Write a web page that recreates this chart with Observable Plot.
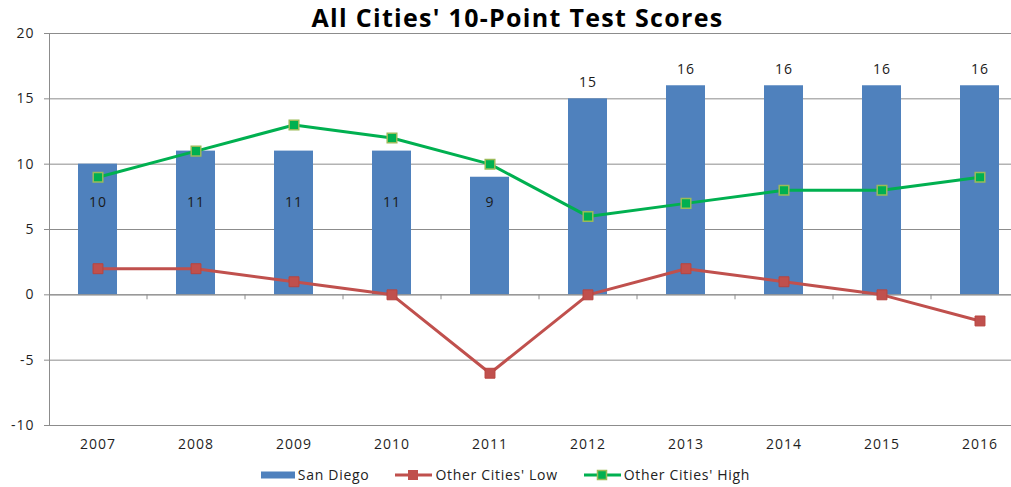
<!DOCTYPE html>
<html>
<head>
<meta charset="utf-8">
<script src="https://cdn.jsdelivr.net/npm/d3@7"></script>
<script src="https://cdn.jsdelivr.net/npm/@observablehq/plot@0.6"></script>
<style>
  html, body { margin: 0; padding: 0; background: #fff; overflow: hidden; width: 1011px; height: 487px; position: relative; }
  #title { position: absolute; left: 0; top: 0; width: 1011px; height: 34px; line-height: 34px; text-align: center; font-family: "Open Sans", sans-serif; font-weight: bold; font-size: 25px; letter-spacing: 1.3px; color: #000; padding-left: 24px; box-sizing: border-box; white-space: nowrap; z-index: 2; }
  #chart { padding-top: 22px; }
  #chart svg { display: block; overflow: hidden; letter-spacing: 1px; }
  #legend { height: 27px; display: flex; justify-content: center; align-items: center; font-family: "Open Sans", sans-serif; font-size: 14px; letter-spacing: 0.7px; color: #222; gap: 26px; padding-left: 0px; padding-top: 2px; box-sizing: border-box; }
  .item { display: flex; align-items: center; gap: 3px; }
</style>
</head>
<body>
<div id="title">All Cities' 10-Point Test Scores</div>
<div id="chart"></div>
<div id="legend"></div>
<script>
const years = ["2007", "2008", "2009", "2010", "2011", "2012", "2013", "2014", "2015", "2016"];
const sanDiego = [10, 11, 11, 11, 9, 15, 16, 16, 16, 16];
const othersLow = [2, 2, 1, 0, -6, 0, 2, 1, 0, -2];
const othersHigh = [9, 11, 13, 12, 10, 6, 7, 8, 8, 9];
const labelPlacement = ["inside", "inside", "inside", "inside", "inside", "above", "above", "above", "above", "above"];
const yTicks = [-10, -5, 0, 5, 10, 15, 20];
const seriesNames = ["San Diego", "Other Cities' Low", "Other Cities' High"];

const colors = { bar: "#4F81BD", low: "#C0504D", high: "#00B050", highEdge: "#9BBB59", axis: "#8c8c8c" };

const table = years.map((y, i) => ({ year: y, sd: sanDiego[i], low: othersLow[i], high: othersHigh[i], place: labelPlacement[i] }));

const W = 1011, ML = 49, MR = -18;
const step = (W - ML - MR) / years.length;
const insideLabelY = 7.1;

const chart = Plot.plot({
  width: W,
  height: 438,
  marginLeft: ML,
  marginRight: MR,
  marginTop: 11,
  marginBottom: 35,
  style: { fontFamily: "Open Sans, sans-serif", fontSize: "14px", color: "#1f1f1f", background: "#fff", overflow: "hidden" },
  x: { domain: years, paddingInner: 0.6, paddingOuter: 0.3, label: null },
  y: { domain: [-10, 20], ticks: yTicks, label: null },
  marks: [
    Plot.gridY(yTicks, { stroke: colors.axis, strokeOpacity: 1 }),
    Plot.axisY({ ticks: yTicks, tickSize: 5, tickPadding: 10, stroke: colors.axis, label: null, fontSize: 14, tickFormat: d => String(d) }),
    Plot.axisX({ tickSize: 0, tickPadding: 14, label: null, fontSize: 14 }),
    Plot.frame({ anchor: "left", stroke: colors.axis }),
    Plot.barY(table, { x: "year", y: "sd", fill: colors.bar }),
    Plot.ruleY([0], { stroke: colors.axis }),
    Plot.ruleX(years.slice(1), { x: d => d, dx: -step / 2, y1: 0, y2: -0.38, stroke: colors.axis }),
    Plot.line(table, { x: "year", y: "low", stroke: colors.low, strokeWidth: 3 }),
    Plot.line(table, { x: "year", y: "high", stroke: colors.high, strokeWidth: 3 }),
    Plot.dot(table, { x: "year", y: "low", symbol: "square", r: 5.6, fill: colors.low, stroke: "#b8443f", strokeWidth: 1 }),
    Plot.dot(table, { x: "year", y: "high", symbol: "square", r: 5.4, fill: colors.high, stroke: colors.highEdge, strokeWidth: 1.5 }),
    Plot.text(table.filter(d => d.place === "inside"), { x: "year", y: () => insideLabelY, text: d => String(d.sd), fill: "#1a1a1a", fontSize: 14 }),
    Plot.text(table.filter(d => d.place === "above"), { x: "year", y: "sd", dy: -16, text: d => String(d.sd), fill: "#1a1a1a", fontSize: 14 })
  ]
});
document.getElementById("chart").appendChild(chart);

const legend = document.getElementById("legend");
const swatches = [
  `<svg width="34" height="12"><rect x="0" y="2.5" width="34" height="7" fill="${colors.bar}"/></svg>`,
  `<svg width="37" height="12"><line x1="0" x2="37" y1="6" y2="6" stroke="${colors.low}" stroke-width="3"/><rect x="13" y="1" width="10" height="10" fill="${colors.low}"/></svg>`,
  `<svg width="37" height="12"><line x1="0" x2="37" y1="6" y2="6" stroke="${colors.high}" stroke-width="3"/><rect x="13.5" y="1.5" width="9" height="9" fill="${colors.high}" stroke="${colors.highEdge}" stroke-width="1.5"/></svg>`
];
seriesNames.forEach((name, i) => {
  const el = document.createElement("div");
  el.className = "item";
  el.innerHTML = swatches[i] + `<span>${name}</span>`;
  legend.appendChild(el);
});
</script>
</body>
</html>
